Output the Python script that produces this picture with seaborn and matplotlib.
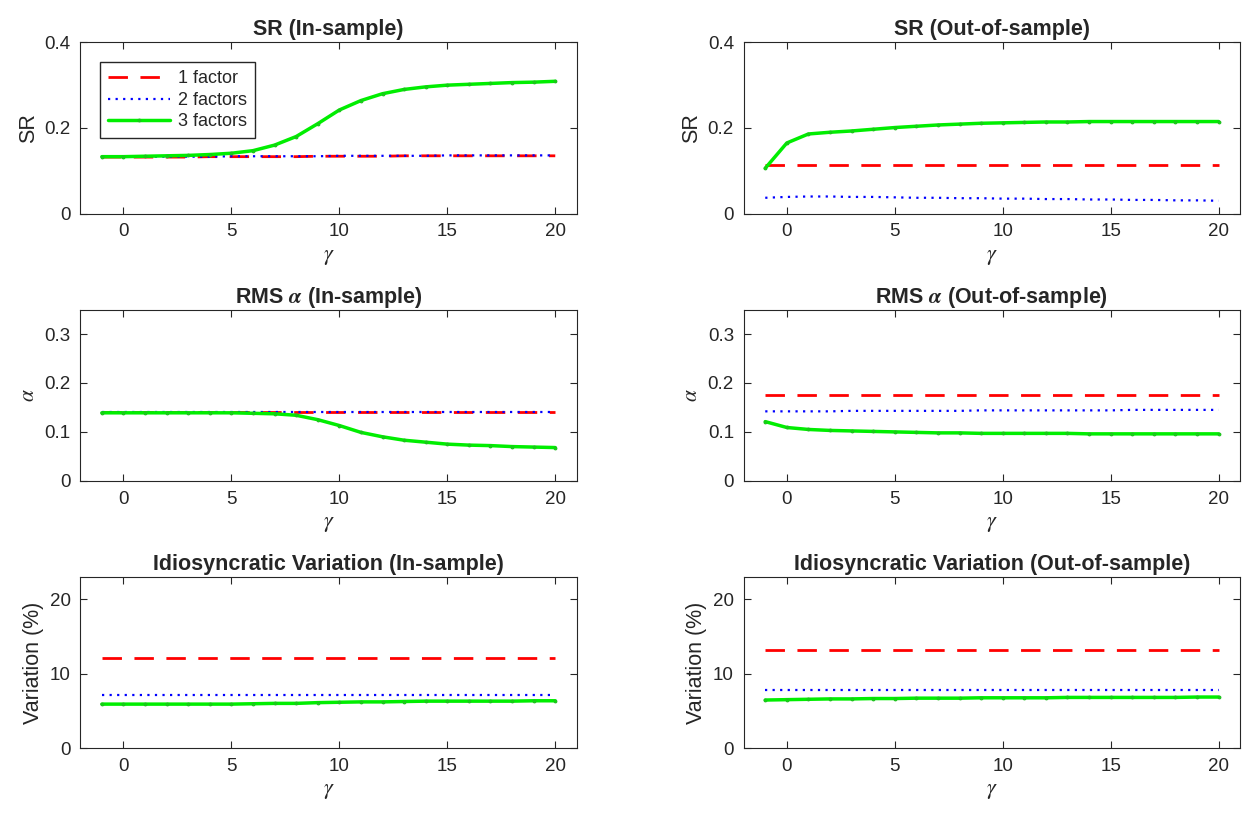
import seaborn as sns
import matplotlib.pyplot as plt
import matplotlib.ticker as ticker

# Risk-aversion grid (x axis)
gamma = [-1, 0, 1, 2, 3, 4, 5, 6, 7, 8, 9, 10, 11, 12, 13, 14, 15, 16, 17, 18, 19, 20]

# SR in-sample
sr_in_1 = [0.132, 0.132, 0.132, 0.132, 0.132, 0.133, 0.133, 0.133, 0.133, 0.133, 0.134,
           0.134, 0.134, 0.134, 0.135, 0.135, 0.135, 0.135, 0.135, 0.135, 0.135, 0.135]
sr_in_2 = [0.133, 0.133, 0.133, 0.133, 0.133, 0.133, 0.134, 0.134, 0.134, 0.134, 0.134,
           0.135, 0.135, 0.135, 0.135, 0.135, 0.136, 0.136, 0.136, 0.136, 0.136, 0.136]
sr_in_3 = [0.133, 0.133, 0.134, 0.135, 0.136, 0.138, 0.141, 0.147, 0.160, 0.180, 0.210,
           0.242, 0.264, 0.280, 0.290, 0.296, 0.300, 0.302, 0.304, 0.306, 0.307, 0.309]

# SR out-of-sample
sr_out_1 = [0.114, 0.114, 0.114, 0.114, 0.114, 0.114, 0.114, 0.114, 0.114, 0.114, 0.114,
            0.114, 0.114, 0.114, 0.114, 0.114, 0.114, 0.114, 0.114, 0.114, 0.114, 0.114]
sr_out_2 = [0.037, 0.039, 0.040, 0.040, 0.039, 0.039, 0.038, 0.037, 0.037, 0.036, 0.036,
            0.035, 0.035, 0.034, 0.034, 0.033, 0.033, 0.032, 0.032, 0.031, 0.031, 0.030]
sr_out_3 = [0.106, 0.165, 0.186, 0.190, 0.193, 0.197, 0.201, 0.204, 0.207, 0.209, 0.211,
            0.212, 0.213, 0.214, 0.214, 0.215, 0.215, 0.215, 0.215, 0.215, 0.215, 0.215]

# RMS alpha in-sample
rms_in_1 = [0.140, 0.140, 0.140, 0.140, 0.140, 0.140, 0.140, 0.140, 0.140, 0.140, 0.140,
            0.140, 0.140, 0.140, 0.140, 0.140, 0.140, 0.140, 0.140, 0.140, 0.140, 0.140]
rms_in_2 = [0.140, 0.140, 0.140, 0.140, 0.140, 0.140, 0.140, 0.140, 0.140, 0.140, 0.140,
            0.140, 0.140, 0.140, 0.140, 0.140, 0.140, 0.140, 0.140, 0.140, 0.140, 0.140]
rms_in_3 = [0.139, 0.139, 0.139, 0.139, 0.139, 0.139, 0.139, 0.138, 0.137, 0.134, 0.125,
            0.113, 0.099, 0.090, 0.083, 0.079, 0.075, 0.073, 0.072, 0.070, 0.069, 0.068]

# RMS alpha out-of-sample
rms_out_1 = [0.176, 0.176, 0.176, 0.176, 0.176, 0.176, 0.176, 0.176, 0.176, 0.176, 0.176,
             0.176, 0.176, 0.176, 0.176, 0.176, 0.176, 0.176, 0.176, 0.176, 0.176, 0.176]
rms_out_2 = [0.142, 0.142, 0.142, 0.142, 0.143, 0.143, 0.143, 0.143, 0.143, 0.143, 0.144,
             0.144, 0.144, 0.144, 0.144, 0.144, 0.144, 0.145, 0.145, 0.145, 0.145, 0.145]
rms_out_3 = [0.121, 0.109, 0.105, 0.103, 0.102, 0.101, 0.100, 0.099, 0.098, 0.098, 0.097,
             0.097, 0.097, 0.097, 0.097, 0.096, 0.096, 0.096, 0.096, 0.096, 0.096, 0.096]

# Idiosyncratic variation (%)
idio_in_1 = [12.1, 12.1, 12.1, 12.1, 12.1, 12.1, 12.1, 12.1, 12.1, 12.1, 12.1,
             12.1, 12.1, 12.1, 12.1, 12.1, 12.1, 12.1, 12.1, 12.1, 12.1, 12.1]
idio_in_2 = [7.1, 7.1, 7.1, 7.1, 7.1, 7.1, 7.1, 7.1, 7.1, 7.1, 7.1,
             7.1, 7.1, 7.1, 7.1, 7.1, 7.1, 7.1, 7.1, 7.1, 7.1, 7.1]
idio_in_3 = [5.9, 5.9, 5.9, 5.9, 5.9, 5.9, 5.9, 5.95, 6.0, 6.0, 6.1,
             6.15, 6.2, 6.2, 6.25, 6.3, 6.3, 6.3, 6.3, 6.3, 6.35, 6.35]
idio_out_1 = [13.2, 13.2, 13.2, 13.2, 13.2, 13.2, 13.2, 13.2, 13.2, 13.2, 13.2,
              13.2, 13.2, 13.2, 13.2, 13.2, 13.2, 13.2, 13.2, 13.2, 13.2, 13.2]
idio_out_2 = [7.85, 7.85, 7.85, 7.85, 7.85, 7.85, 7.85, 7.85, 7.85, 7.85, 7.85,
              7.85, 7.85, 7.85, 7.85, 7.85, 7.85, 7.85, 7.85, 7.85, 7.85, 7.85]
idio_out_3 = [6.45, 6.5, 6.55, 6.6, 6.6, 6.65, 6.65, 6.7, 6.7, 6.7, 6.75,
              6.75, 6.75, 6.75, 6.8, 6.8, 6.8, 6.8, 6.8, 6.8, 6.85, 6.85]

labels = ['1 factor', '2 factors', '3 factors']
titles = ['SR (In-sample)', 'SR (Out-of-sample)',
          r'RMS $\boldsymbol{\alpha}$ (In-sample)', r'RMS $\boldsymbol{\alpha}$ (Out-of-sample)',
          'Idiosyncratic Variation (In-sample)', 'Idiosyncratic Variation (Out-of-sample)']
ylabels = ['SR', 'SR', r'$\alpha$', r'$\alpha$', 'Variation (%)', 'Variation (%)']

sns.set_style('ticks')
plt.rcParams['font.family'] = ['Liberation Sans', 'DejaVu Sans']
plt.rcParams['mathtext.fontset'] = 'stix'

fig, axes = plt.subplots(3, 2, figsize=(12.54, 8.14), dpi=100)
fig.subplots_adjust(left=0.064, right=0.989, top=0.948, bottom=0.081, wspace=0.336, hspace=0.56)

panels = [
    (sr_in_1, sr_in_2, sr_in_3, (0, 0.4), [0, 0.2, 0.4]),
    (sr_out_1, sr_out_2, sr_out_3, (0, 0.4), [0, 0.2, 0.4]),
    (rms_in_1, rms_in_2, rms_in_3, (0, 0.35), [0, 0.1, 0.2, 0.3]),
    (rms_out_1, rms_out_2, rms_out_3, (0, 0.35), [0, 0.1, 0.2, 0.3]),
    (idio_in_1, idio_in_2, idio_in_3, (0, 23), [0, 10, 20]),
    (idio_out_1, idio_out_2, idio_out_3, (0, 23), [0, 10, 20]),
]

for i, (ax, (s1, s2, s3, ylim, yticks)) in enumerate(zip(axes.flat, panels)):
    sns.lineplot(x=gamma, y=s1, ax=ax, color='#ff0000', linewidth=2,
                 linestyle=(0, (7, 4.5)), label=labels[0])
    sns.lineplot(x=gamma, y=s2, ax=ax, color='#0000ff', linewidth=1.6,
                 linestyle=(0, (1, 2.4)), label=labels[1])
    sns.lineplot(x=gamma, y=s3, ax=ax, color='#00ee00', linewidth=2.5,
                 marker='.', markersize=4, markeredgecolor='#22bb22', label=labels[2])
    ax.set_xlim(-2, 21)
    ax.set_ylim(*ylim)
    ax.set_xticks([0, 5, 10, 15, 20])
    ax.set_yticks(yticks)
    ax.yaxis.set_major_formatter(ticker.FuncFormatter(lambda v, _: f'{v:g}'))
    ax.tick_params(direction='in', top=True, right=True, length=5, width=0.8,
                   labelsize=13.5, colors='0.15', pad=7)
    for sp in ax.spines.values():
        sp.set_visible(True)
        sp.set_color('0.15')
        sp.set_linewidth(0.8)
    ax.set_title(titles[i], fontsize=15.5, fontweight='bold', pad=5)
    ax.set_xlabel(r'$\gamma$', fontsize=16, labelpad=4)
    ax.set_ylabel(ylabels[i], fontsize=15.5, labelpad=4)
    if i == 0:
        ax.legend(loc='upper left', fontsize=13, frameon=True, fancybox=False,
                  edgecolor='0.15', framealpha=1, handlelength=3.4, labelspacing=0.25,
                  borderaxespad=1.1, borderpad=0.45, handletextpad=0.45)
    else:
        ax.get_legend().remove()

plt.savefig('out.png', dpi=100)
